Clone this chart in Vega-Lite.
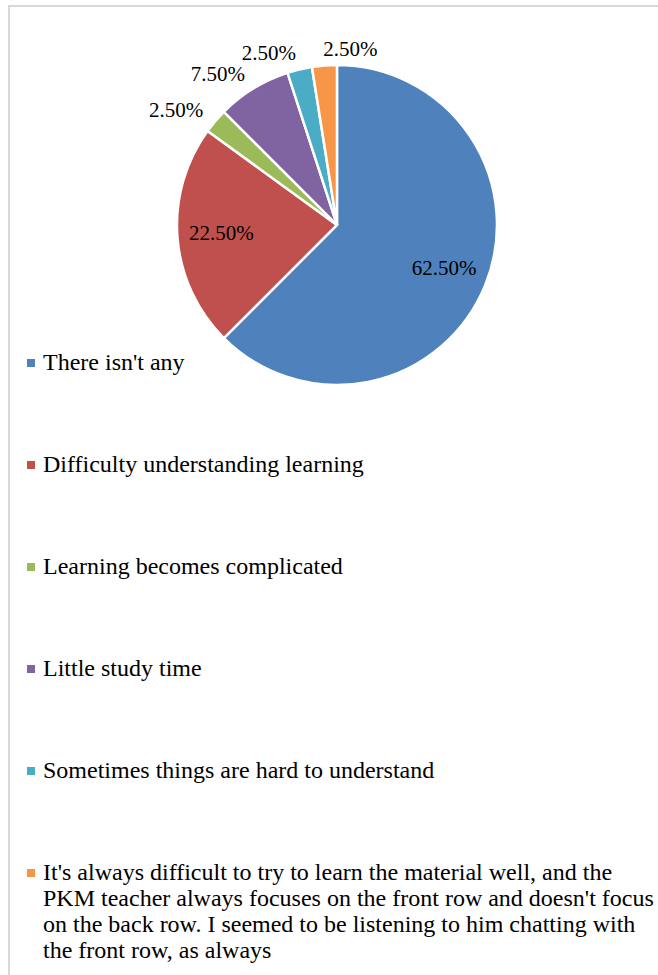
{
  "$schema": "https://vega.github.io/schema/vega-lite/v6.json",
  "width": 651,
  "height": 971,
  "autosize": {"type": "none"},
  "padding": {"left": 9, "top": 6, "right": -2, "bottom": -2},
  "background": "white",
  "config": {"view": {"stroke": "#d9d9d9", "strokeWidth": 2}},
  "data": {
    "values": [
      {"i": 1, "cat": "There isn't any", "share": 0.625},
      {"i": 2, "cat": "Difficulty understanding learning", "share": 0.225},
      {"i": 3, "cat": "Learning becomes complicated", "share": 0.025},
      {"i": 4, "cat": "Little study time", "share": 0.075},
      {"i": 5, "cat": "Sometimes things are hard to understand", "share": 0.025},
      {"i": 6, "cat": "It's always difficult to try to learn the material well, and the\nPKM teacher always focuses on the front row and doesn't focus\non the back row. I seemed to be listening to him chatting with\nthe front row, as always", "share": 0.025}
    ]
  },
  "encoding": {
    "theta": {"field": "share", "type": "quantitative", "stack": true},
    "order": {"field": "i", "type": "quantitative"},
    "x": {"datum": 0.5038, "type": "quantitative", "scale": {"domain": [0, 1]}, "axis": null},
    "y": {"datum": 0.2255, "type": "quantitative", "scale": {"domain": [0, 1], "reverse": true}, "axis": null}
  },
  "layer": [
    {
      "mark": {"type": "arc", "radius": 160, "stroke": "white", "strokeWidth": 2.5},
      "encoding": {
        "color": {
          "field": "cat",
          "type": "nominal",
          "sort": null,
          "scale": {
            "domain": [
              "There isn't any",
              "Difficulty understanding learning",
              "Learning becomes complicated",
              "Little study time",
              "Sometimes things are hard to understand",
              "It's always difficult to try to learn the material well, and the\nPKM teacher always focuses on the front row and doesn't focus\non the back row. I seemed to be listening to him chatting with\nthe front row, as always"
            ],
            "range": ["#4F81BD", "#C0504D", "#9BBB59", "#8064A2", "#4BACC6", "#F79646"]
          },
          "legend": {
            "orient": "none",
            "legendX": 10,
            "legendY": 345,
            "title": null,
            "direction": "vertical",
            "padding": 0,
            "symbolType": "square",
            "symbolSize": 64,
            "symbolStrokeWidth": 0,
            "labelFont": "Liberation Serif",
            "labelFontSize": 24,
            "labelColor": "black",
            "labelOffset": 0,
            "labelLimit": 700,
            "rowPadding": 78,
            "labelExpr": "split(datum.label, '\\n')"
          }
        }
      }
    },
    {
      "mark": {"type": "text", "radius": 116, "font": "Liberation Serif", "fontSize": 21, "color": "black"},
      "encoding": {
        "detail": {"field": "cat", "type": "nominal"},
        "text": {"condition": {"test": "datum.share >= 0.2", "field": "share", "type": "quantitative", "format": ".2%"}, "value": ""}
      }
    },
    {
      "mark": {"type": "text", "radius": 176, "align": "right", "font": "Liberation Serif", "fontSize": 21, "color": "black"},
      "encoding": {
        "detail": {"field": "cat", "type": "nominal"},
        "text": {"condition": {"test": "datum.share < 0.2 && datum.i != 6", "field": "share", "type": "quantitative", "format": ".2%"}, "value": ""}
      }
    },
    {
      "mark": {"type": "text", "radius": 176, "align": "left", "font": "Liberation Serif", "fontSize": 21, "color": "black"},
      "encoding": {
        "detail": {"field": "cat", "type": "nominal"},
        "text": {"condition": {"test": "datum.i == 6", "field": "share", "type": "quantitative", "format": ".2%"}, "value": ""}
      }
    }
  ]
}
